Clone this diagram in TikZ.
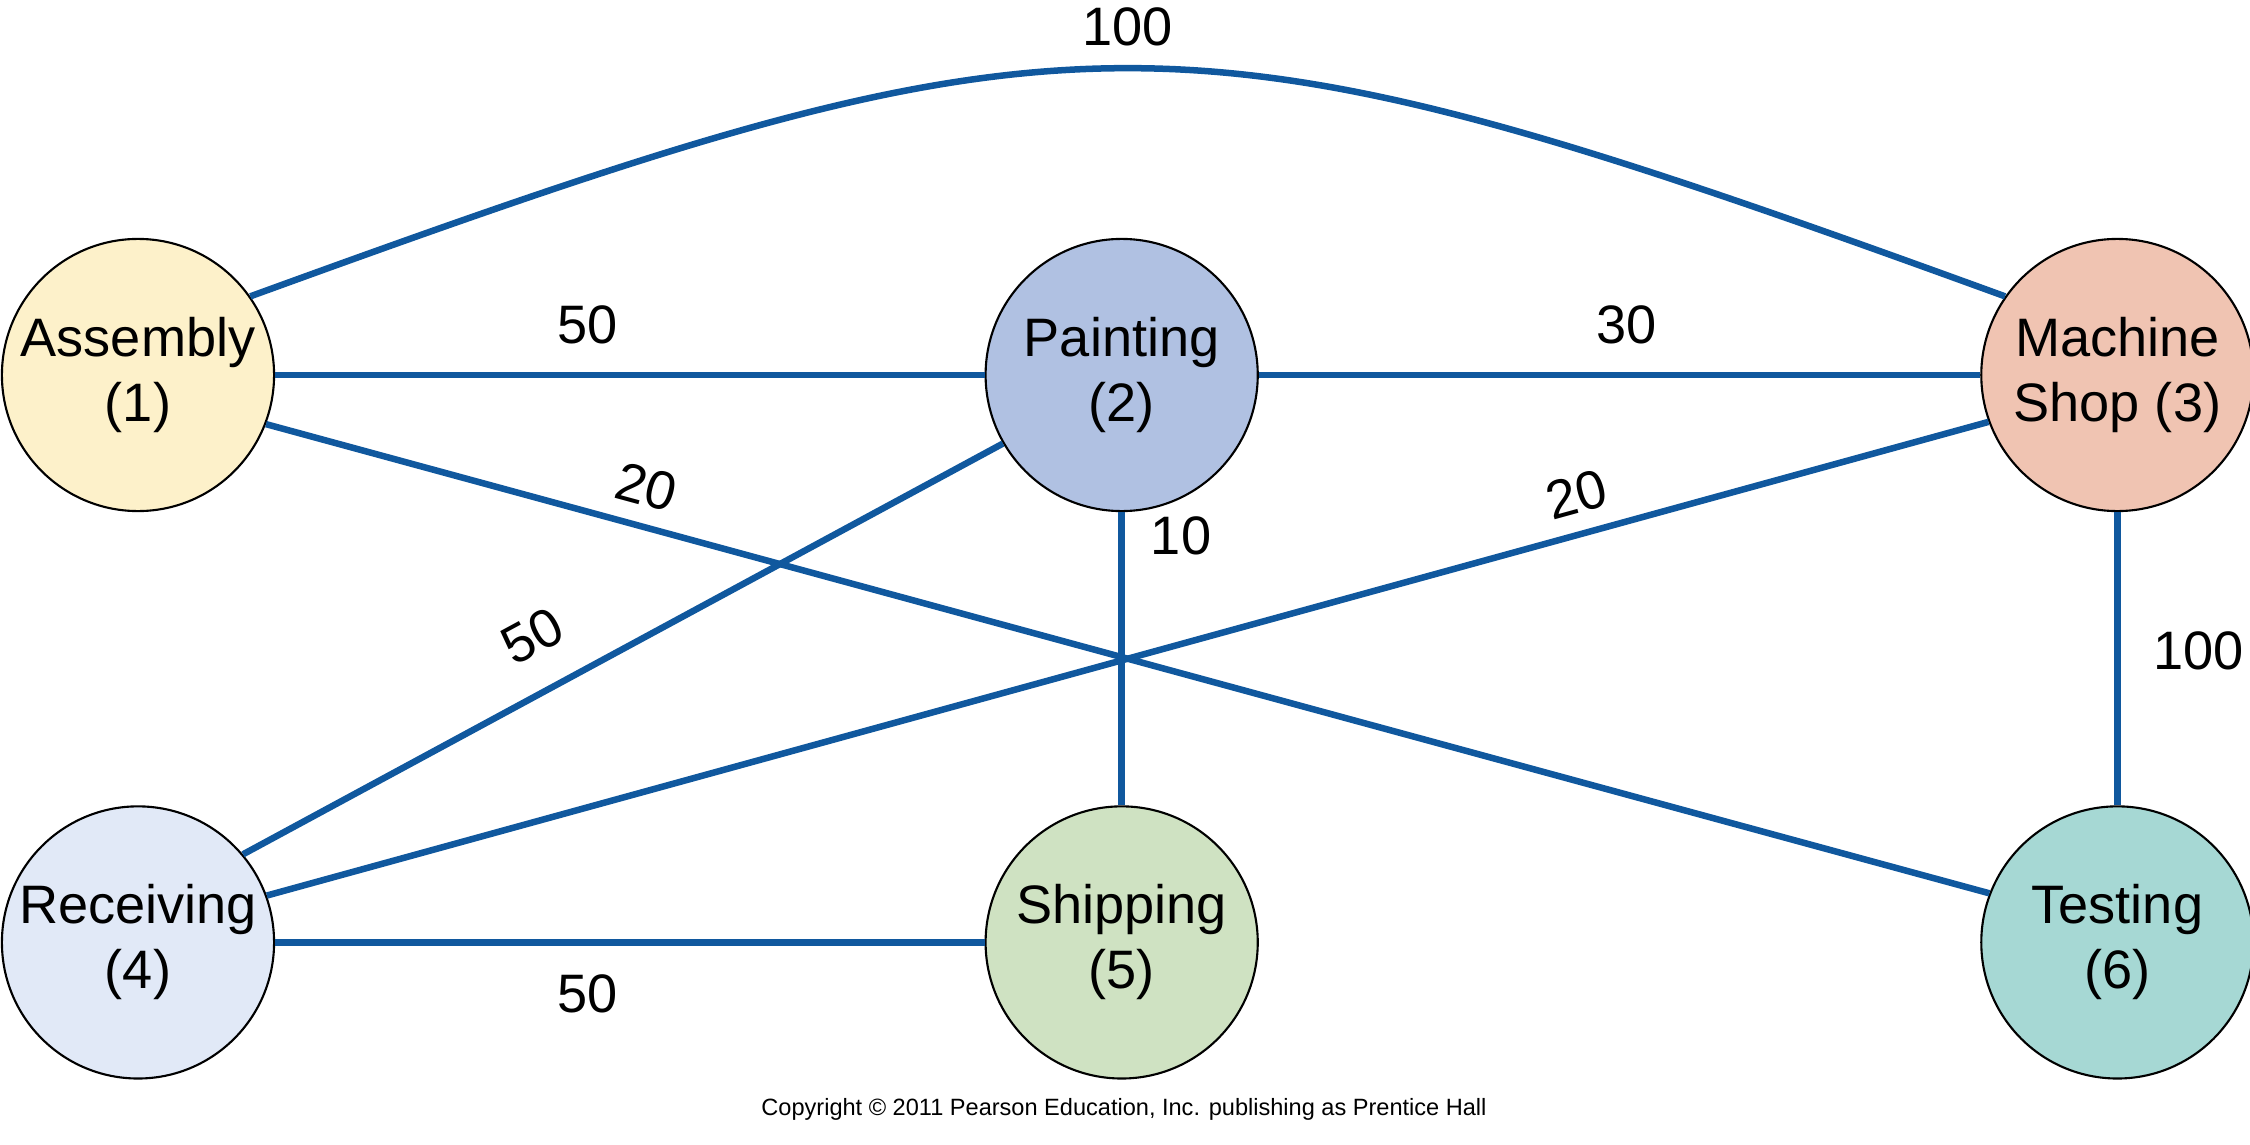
\documentclass[tikz,border=0pt]{standalone}
\usepackage{fontspec}
\setmainfont{Liberation Sans}
\usetikzlibrary{positioning}
\definecolor{flowblue}{RGB}{16,88,158}
\definecolor{assemblyfill}{RGB}{253,241,202}
\definecolor{paintingfill}{RGB}{176,193,226}
\definecolor{machinefill}{RGB}{240,196,178}
\definecolor{receivingfill}{RGB}{225,233,247}
\definecolor{shippingfill}{RGB}{207,226,194}
\definecolor{testingfill}{RGB}{166,216,212}
\newcommand{\deptfont}{\fontsize{15.4}{18.5}\selectfont}
\newcommand{\creditfont}{\fontsize{6.7}{8}\selectfont}
\tikzstyle{dept}=[
	circle,
	draw=black,
	line width=0.6pt,
	minimum size=2.72cm,
	inner sep=0pt,
	align=center,
	font=\deptfont,
	node distance=2.93cm and 7.1cm
]
\tikzstyle{flow}=[
	draw=flowblue,
	line width=1.85pt
]
\tikzstyle{load}=[
	inner sep=0pt,
	font=\deptfont
]
\tikzstyle{credit}=[
	inner sep=0pt,
	font=\creditfont
]

\begin{document}
\begin{tikzpicture}[x=0.01cm,y=0.01cm]
\useasboundingbox (0,0) rectangle (2250,1144);
\node [dept, fill=assemblyfill] (Assembly) at (138,769) {Assembly\\(1)};
\node [dept, fill=paintingfill] (Painting)[right=7.09cm of Assembly] {Painting\\(2)};
\node [dept, fill=machinefill] (MachineShop)[right=7.21cm of Painting] {Machine\\Shop (3)};
\node [dept, fill=receivingfill] (Receiving)[below=of Assembly] {Receiving\\(4)};
\node [dept, fill=shippingfill] (Shipping)[below=of Painting] {Shipping\\(5)};
\node [dept, fill=testingfill] (Testing)[below=of MachineShop] {Testing\\(6)};

\draw [flow] (Assembly.35) to[out=20, in=160, looseness=1.3]
	node [load, above=0.19cm] {100} (MachineShop.145);
\draw [flow] (Assembly) -- node [load, pos=0.44, above=0.28cm] {50} (Painting);
\draw [flow] (Painting) -- node [load, pos=0.51, above=0.28cm] {30} (MachineShop);
\draw [flow] (Assembly.-21) -- node [load, sloped, pos=0.215, above=0.17cm] {20} (Testing.159);
\draw [flow] (Receiving.40) -- node [load, sloped, pos=0.415, above=0.32cm] {50} (Painting.210);
\draw [flow] (Receiving.20) -- node [load, sloped, pos=0.767, above=0.17cm] {20} (MachineShop.200);
\draw [flow] (Painting) -- node [load, pos=0.08, right=0.26cm] {10} (Shipping);
\draw [flow] (MachineShop) -- node [load, pos=0.474, right=0.33cm] {100} (Testing);
\draw [flow] (Receiving) -- node [load, pos=0.44, below=0.29cm] {50} (Shipping);

\node [credit] (Credit) at (1124,35) {Copyright © 2011 Pearson Education, Inc. publishing as Prentice Hall};
\end{tikzpicture}
\end{document}
